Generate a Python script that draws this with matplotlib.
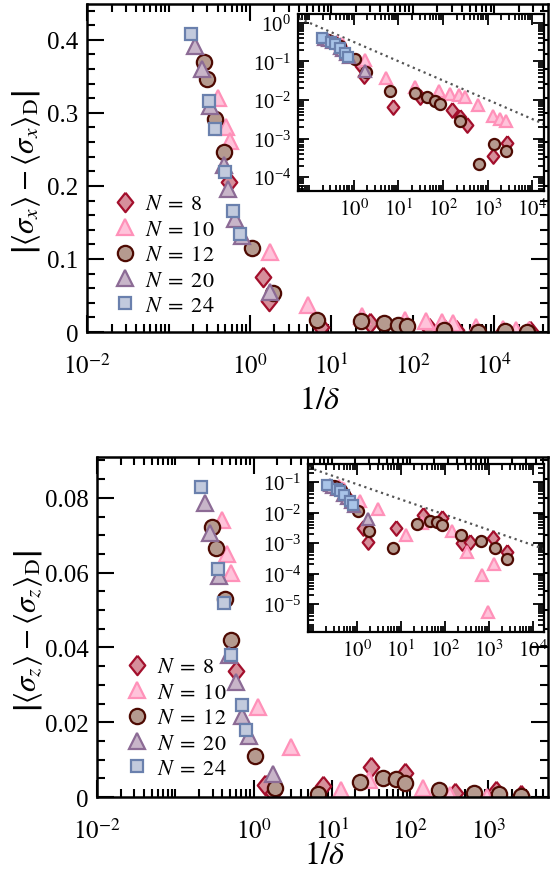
import numpy as np
import matplotlib
matplotlib.use("Agg")
import matplotlib.pyplot as plt
from matplotlib.ticker import FixedLocator, FixedFormatter, MultipleLocator, LogLocator, LogFormatterMathtext, NullFormatter, FuncFormatter

plt.rcParams['font.family'] = 'serif'
plt.rcParams['font.serif'] = ['Liberation Serif', 'DejaVu Serif']
plt.rcParams['mathtext.fontset'] = 'stix'

#=============== DATA =============#
sizes_n = [8, 10, 12, 20, 24]

# panel (a): |<sigma_x> - <sigma_x>_D| vs 1/delta
x_a = {
    8:  [0.55, 1.45, 1.7, 7.4, 30, 160, 240, 340, 1290, 2750],
    10: [0.41, 0.51, 0.575, 1.75, 5.2, 24, 81, 145, 230, 310, 600, 1290, 1860, 2630],
    12: [0.27, 0.30, 0.37, 0.48, 1.05, 1.9, 6.6, 23, 44, 66, 85, 240, 630, 1350, 2500],
    20: [0.21, 0.26, 0.32, 0.48, 0.54, 0.66, 0.79, 1.78],
    24: [0.19, 0.31, 0.37, 0.49, 0.62, 0.76],
}
y_a = {
    8:  [0.205, 0.075, 0.043, 0.0066, 0.012, 0.0055, 0.0036, 0.0022, 0.00035, 0.00076],
    10: [0.32, 0.281, 0.262, 0.11, 0.037, 0.022, 0.017, 0.0145, 0.0135, 0.012, 0.0074, 0.0038, 0.0032, 0.0028],
    12: [0.370, 0.347, 0.292, 0.247, 0.115, 0.053, 0.017, 0.015, 0.012, 0.0093, 0.008, 0.0028, 0.00022, 0.00072, 0.00048],
    20: [0.392, 0.360, 0.310, 0.229, 0.196, 0.155, 0.131, 0.055],
    24: [0.408, 0.316, 0.278, 0.219, 0.166, 0.134],
}

# panel (b): |<sigma_z> - <sigma_z>_D| vs 1/delta
x_b = {
    8:  [0.60, 1.38, 1.78, 7.8, 32, 85, 245, 370, 1230, 2570],
    10: [0.39, 0.46, 0.51, 1.15, 3.0, 13, 30, 145, 320, 690, 960, 1290],
    12: [0.295, 0.33, 0.43, 0.51, 1.05, 1.9, 6.6, 23, 45, 66, 87, 235, 650, 1380, 2600],
    20: [0.24, 0.275, 0.36, 0.48, 0.59, 0.72, 0.87, 1.78],
    24: [0.21, 0.35, 0.42, 0.52, 0.71, 0.81],
}
y_b = {
    8:  [0.0336, 0.0032, 0.0011, 0.003, 0.0081, 0.0065, 0.00098, 0.0011, 0.0015, 0.00052],
    10: [0.074, 0.065, 0.060, 0.024, 0.0134, 0.0018, 0.0045, 0.0024, 0.00052, 9.1e-5, 5.5e-6, 0.0002],
    12: [0.0723, 0.0667, 0.053, 0.042, 0.011, 0.0025, 0.0007, 0.0041, 0.0051, 0.0048, 0.0038, 0.0018, 0.0012, 0.0007, 0.00029],
    20: [0.0787, 0.0707, 0.059, 0.038, 0.0307, 0.0216, 0.0163, 0.0061],
    24: [0.083, 0.061, 0.052, 0.038, 0.0245, 0.018],
}

# dotted guide lines  ~ x^(-1/2)
guide_x = [0.06, 20000]
guide_coef_a = 0.32
guide_coef_b = 0.085

xtick_vals = [1e-2, 1, 10, 100, 1000]
xtick_labels_a = [r'$10^{-2}$', r'$10^{0}$', r'$10^{1}$', r'$10^{2}$', r'$10^{4}$']
xtick_labels_b = [r'$10^{-2}$', r'$10^{0}$', r'$10^{1}$', r'$10^{2}$', r'$10^{3}$']
inset_xticks = [1, 10, 100, 1000, 10000]
inset_xlabels = [r'$10^{0}$', r'$10^{1}$', r'$10^{2}$', r'$10^{3}$', r'$10^{4}$']
#=============== END DATA =============#

diamond = [(0, 1), (0.8, 0), (0, -1), (-0.8, 0), (0, 1)]
markers = {8: diamond, 10: '^', 12: 'o', 20: '^', 24: 's'}
faces = {8: '#d68f9b', 10: '#ffc3da', 12: '#b59a8f', 20: '#c8b5c9', 24: '#c2cadd'}
edges = {8: '#a30f2c', 10: '#ff91b9', 12: '#4e0a02', 20: '#8c6b95', 24: '#6a80ad'}
ms_main = {8: 14, 10: 12, 12: 11, 20: 12, 24: 8}
ms_ins = {8: 10.5, 10: 9, 12: 8, 20: 9, 24: 7}
inset_face24 = '#a9c4e8'


def draw_series(ax, xs, ys, sizes, inset=False):
    for n in sizes_n:
        fc = faces[n]
        if inset and n == 24:
            fc = inset_face24
        ax.plot(xs[n], np.abs(ys[n]), linestyle='none', marker=markers[n],
                ms=sizes[n], mfc=fc, mec=edges[n], mew=1.6,
                label=r'$N\;=\;%d$' % n)


def style_main(ax, xlim, ylim, major, minor, xlabels):
    ax.set_xscale('log')
    ax.set_xlim(*xlim)
    ax.set_ylim(*ylim)
    ax.xaxis.set_major_locator(FixedLocator(xtick_vals))
    ax.xaxis.set_major_formatter(FixedFormatter(xlabels))
    ax.xaxis.set_minor_locator(LogLocator(base=10, subs=np.arange(1, 10), numticks=40))
    ax.xaxis.set_minor_formatter(NullFormatter())
    ax.yaxis.set_major_locator(MultipleLocator(major))
    ax.yaxis.set_minor_locator(MultipleLocator(minor))
    ax.yaxis.set_major_formatter(FuncFormatter(lambda v, p: '%g' % round(v, 4)))
    ax.tick_params(which='both', direction='in', top=True, right=True, labelsize=18, width=1.5)
    ax.tick_params(which='major', length=12)
    ax.tick_params(axis='x', which='major', pad=15)
    ax.tick_params(axis='y', which='major', pad=6)
    ax.tick_params(which='minor', length=6)
    for s in ax.spines.values():
        s.set_linewidth(1.8)


def style_inset(ax, xlim, ylim):
    ax.set_xscale('log')
    ax.set_yscale('log')
    ax.set_xlim(*xlim)
    ax.set_ylim(*ylim)
    ax.xaxis.set_major_locator(FixedLocator(inset_xticks))
    ax.xaxis.set_major_formatter(FixedFormatter(inset_xlabels))
    ax.xaxis.set_minor_locator(LogLocator(base=10, subs=np.arange(1, 10), numticks=40))
    ax.xaxis.set_minor_formatter(NullFormatter())
    ax.yaxis.set_major_locator(LogLocator(base=10, numticks=20))
    ax.yaxis.set_major_formatter(LogFormatterMathtext())
    ax.yaxis.set_minor_locator(LogLocator(base=10, subs=np.arange(2, 10), numticks=40))
    ax.yaxis.set_minor_formatter(NullFormatter())
    ax.tick_params(which='both', direction='in', top=True, right=True, labelsize=15, width=1.3)
    ax.tick_params(which='major', length=8, pad=5)
    ax.tick_params(which='minor', length=4)
    for s in ax.spines.values():
        s.set_linewidth(1.6)


fig = plt.figure(figsize=(5.51, 8.78), dpi=100)

# ---- top panel ----
ax1 = fig.add_axes([0.158, 0.6207, 0.8367, 0.3736])
draw_series(ax1, x_a, y_a, ms_main)
style_main(ax1, (1e-2, 10 ** 3.66), (0, 0.449), 0.1, 0.02, xtick_labels_a)
ax1.set_xlabel(r'$1/\delta$', fontsize=23)
ax1.xaxis.set_label_coords(0.505, -0.165)
ax1.set_ylabel(r'$\left|\langle\sigma_x\rangle-\langle\sigma_x\rangle_{\rm D}\right|$', fontsize=22)
ax1.yaxis.set_label_coords(-0.095, 0.49)
ax1.legend(loc='upper left', bbox_to_anchor=(0.03, 0.455), frameon=False, fontsize=16,
           handletextpad=0.3, labelspacing=0.22, borderpad=0, handlelength=1.2)

in1 = fig.add_axes([0.5408, 0.7813, 0.4465, 0.2016])
in1.plot(guide_x, [guide_coef_a * v ** -0.5 for v in guide_x], ls=':', color='#555555', lw=1.6)
draw_series(in1, x_a, y_a, ms_ins, inset=True)
style_inset(in1, (10 ** -1.25, 10 ** 4.26), (10 ** -4.36, 10 ** 0.23))

# ---- bottom panel ----
ax2 = fig.add_axes([0.176, 0.0911, 0.8185, 0.3872])
draw_series(ax2, x_b, y_b, ms_main)
style_main(ax2, (1e-2, 10 ** 3.76), (0, 0.0909), 0.02, 0.005, xtick_labels_b)
ax2.set_xlabel(r'$1/\delta$', fontsize=23)
ax2.xaxis.set_label_coords(0.506, -0.13)
ax2.set_ylabel(r'$\left|\langle\sigma_z\rangle-\langle\sigma_z\rangle_{\rm D}\right|$', fontsize=22)
ax2.yaxis.set_label_coords(-0.115, 0.49)
ax2.legend(loc='upper left', bbox_to_anchor=(0.035, 0.445), frameon=False, fontsize=16,
           handletextpad=0.3, labelspacing=0.22, borderpad=0, handlelength=1.2)

in2 = fig.add_axes([0.559, 0.279, 0.4283, 0.1913])
in2.plot(guide_x, [guide_coef_b * v ** -0.5 for v in guide_x], ls=':', color='#555555', lw=1.6)
draw_series(in2, x_b, y_b, ms_ins, inset=True)
style_inset(in2, (10 ** -1.11, 10 ** 4.25), (10 ** -5.92, 10 ** -0.41))

fig.savefig('out.png', dpi=100)
